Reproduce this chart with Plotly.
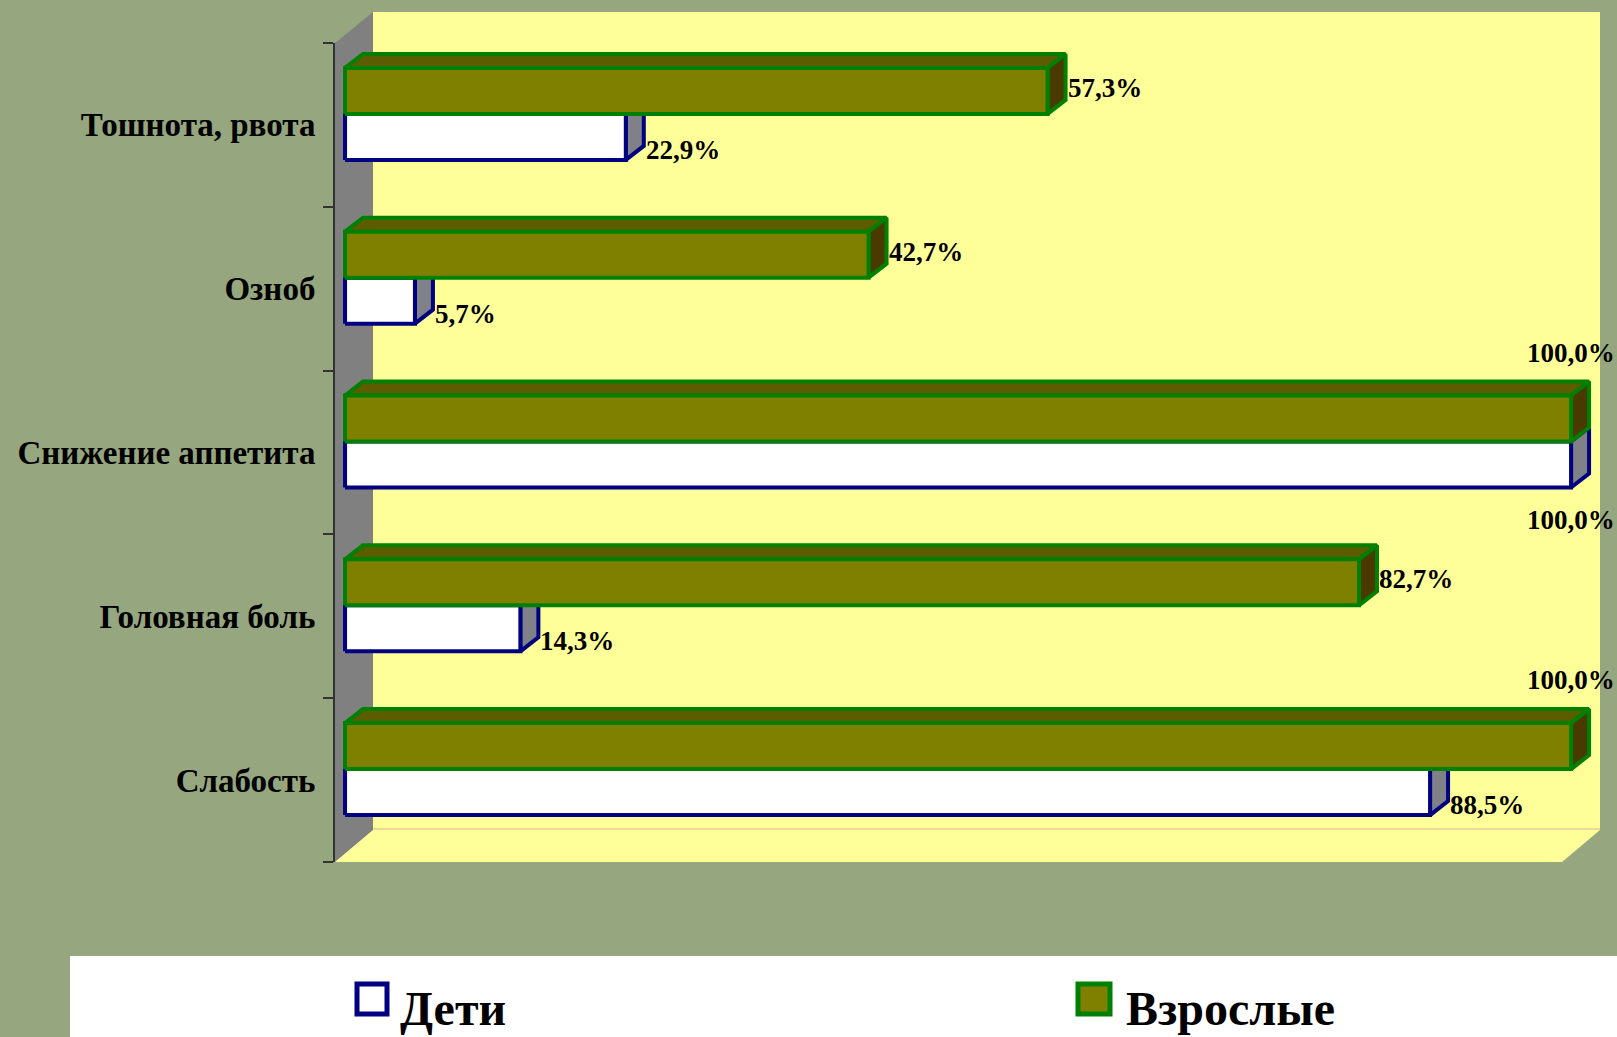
import plotly.graph_objects as go

# ---------------- data ----------------
categories = ["Слабость", "Головная боль", "Снижение аппетита", "Озноб", "Тошнота, рвота"]
children = [88.5, 14.3, 100.0, 5.7, 22.9]
adults = [100.0, 82.7, 100.0, 42.7, 57.3]
series_names = ["Дети", "Взрослые"]

# ---------------- geometry / style ----------------
W, H = 1617, 1037
X0PX, X1PX = 335, 1600     # plot area horizontal pixel extent
Y0PX, Y1PX = 43, 862       # plot area vertical pixel extent (top, bottom)
XR = [-0.82, 102.36]
YR = [-0.5, 4.5]
pxx = (X1PX - X0PX) / (XR[1] - XR[0])
pxy = (Y1PX - Y0PX) / (YR[1] - YR[0])
DX = 18 / pxx              # 3-D depth in data units
DY = 14 / pxy
JOINT = 11 / pxy           # joint between the two bars, above category centre
BAR_H = 46 / pxy

BG = "#96A77F"
WALL = "#FFFF99"
SIDEWALL = "#808080"
OLIVE = "#808000"
OLIVE_TOP = "#5C5C00"
OLIVE_SIDE = "#4A3A00"
GREEN = "#008000"
NAVY = "#000080"
GREY_SIDE = "#808088"
SERIF = "Liberation Serif"


def px(x):
    return x / W


def py(y):
    return 1 - y / H


def poly_trace(polys, fill, line):
    xs, ys = [], []
    for pts in polys:
        for (a, b) in pts + [pts[0]]:
            xs.append(a)
            ys.append(b)
        xs.append(None)
        ys.append(None)
    return go.Scatter(x=xs, y=ys, mode="lines", fill="toself", fillcolor=fill,
                      line=dict(color=line, width=4), hoverinfo="skip",
                      showlegend=False)


w_side, w_front, g_top, g_side, g_front = [], [], [], [], []
for i, (vc, va) in enumerate(zip(children, adults)):
    c = i
    wt = c + JOINT
    wb = wt - BAR_H
    gb = c + JOINT
    gt = gb + BAR_H
    # children (white)
    w_side.append([(vc, wb), (vc, wt), (vc + DX, wt + DY), (vc + DX, wb + DY)])
    w_front.append([(0, wb), (vc, wb), (vc, wt), (0, wt)])
    # adults (olive)
    g_top.append([(0, gt), (DX, gt + DY), (va + DX, gt + DY), (va, gt)])
    g_side.append([(va, gb), (va, gt), (va + DX, gt + DY), (va + DX, gb + DY)])
    g_front.append([(0, gb), (va, gb), (va, gt), (0, gt)])

fig = go.Figure()
fig.add_trace(poly_trace(w_side, GREY_SIDE, NAVY))
fig.add_trace(poly_trace(w_front, "#FFFFFF", NAVY))
fig.add_trace(poly_trace(g_top, OLIVE_TOP, GREEN))
fig.add_trace(poly_trace(g_side, OLIVE_SIDE, GREEN))
fig.add_trace(poly_trace(g_front, OLIVE, GREEN))


def fmt(v):
    return f"{v:.1f}".replace(".", ",") + "%"


annotations = []
lab_font = dict(family=SERIF, size=27, color="black", weight="bold")
for i, (vc, va) in enumerate(zip(children, adults)):
    c = i
    if va >= 99.95:
        annotations.append(dict(x=va, y=c + 0.61, xref="x", yref="y", text=fmt(va),
                                showarrow=False, xanchor="center", yanchor="middle",
                                font=lab_font))
    else:
        annotations.append(dict(x=va, y=c + 0.225, xref="x", yref="y", text=fmt(va),
                                showarrow=False, xanchor="left", yanchor="middle",
                                xshift=18, font=lab_font))
    if vc >= 99.95:
        annotations.append(dict(x=vc, y=c - 0.41, xref="x", yref="y", text=fmt(vc),
                                showarrow=False, xanchor="center", yanchor="middle",
                                font=lab_font))
    else:
        annotations.append(dict(x=vc, y=c - 0.153, xref="x", yref="y", text=fmt(vc),
                                showarrow=False, xanchor="left", yanchor="middle",
                                xshift=18, font=lab_font))

# legend (manual)
leg_font = dict(family=SERIF, size=48, color="black", weight="bold")
annotations.append(dict(x=px(398), y=py(1008), xref="paper", yref="paper",
                        text=series_names[0], showarrow=False, xanchor="left",
                        yanchor="middle", font=leg_font))
annotations.append(dict(x=px(1124), y=py(1008), xref="paper", yref="paper",
                        text=series_names[1], showarrow=False, xanchor="left",
                        yanchor="middle", font=leg_font))

shapes = [
    # back wall
    dict(type="rect", xref="paper", yref="paper", x0=px(373), x1=px(1600),
         y0=py(830), y1=py(12), fillcolor=WALL, line=dict(width=0), layer="below"),
    # left side wall
    dict(type="path", xref="paper", yref="paper",
         path=f"M {px(335)} {py(43)} L {px(373)} {py(12)} L {px(373)} {py(830)} L {px(335)} {py(862)} Z",
         fillcolor=SIDEWALL, line=dict(width=0), layer="below"),
    # floor
    dict(type="path", xref="paper", yref="paper",
         path=f"M {px(335)} {py(862)} L {px(373)} {py(830)} L {px(1600)} {py(830)} L {px(1562)} {py(862)} Z",
         fillcolor=WALL, line=dict(width=0), layer="below"),
    dict(type="line", xref="paper", yref="paper", x0=px(373), x1=px(1600),
         y0=py(829), y1=py(829), line=dict(color="#F2D79A", width=2), layer="below"),
    # legend box
    dict(type="rect", xref="paper", yref="paper", x0=px(70), x1=px(1617),
         y0=py(1037), y1=py(956), fillcolor="#FFFFFF", line=dict(width=0), layer="below"),
    # legend markers
    dict(type="rect", xref="paper", yref="paper", x0=px(357), x1=px(387),
         y0=py(1014), y1=py(984), fillcolor="#FFFFFF", line=dict(color=NAVY, width=5)),
    dict(type="rect", xref="paper", yref="paper", x0=px(1078), x1=px(1110),
         y0=py(1014), y1=py(984), fillcolor=OLIVE, line=dict(color=GREEN, width=5)),
]

fig.update_layout(
    width=W, height=H,
    margin=dict(l=0, r=0, t=0, b=0),
    paper_bgcolor=BG,
    plot_bgcolor="rgba(0,0,0,0)",
    showlegend=False,
    shapes=shapes,
    annotations=annotations,
    xaxis=dict(domain=[px(X0PX), px(X1PX)], range=XR, visible=False,
               showgrid=False, zeroline=False),
    yaxis=dict(domain=[py(Y1PX), py(Y0PX)], range=YR,
               tickvals=list(range(len(categories))), ticktext=categories,
               ticks="", showgrid=False, zeroline=False,
               showline=True, linecolor="#333333", linewidth=2,
               ticklabelstandoff=11,
               tickfont=dict(family=SERIF, size=33, color="black", weight="bold"),
               minor=dict(tickvals=[k - 0.5 for k in range(len(categories) + 1)],
                          ticks="outside", ticklen=10, tickcolor="#333333",
                          tickwidth=2, showgrid=False),
               automargin=False),
)

fig.write_html(
    "out.html",
    config={"displayModeBar": False},
    post_script="document.body.style.margin='0px';document.body.style.overflow='hidden';",
)
